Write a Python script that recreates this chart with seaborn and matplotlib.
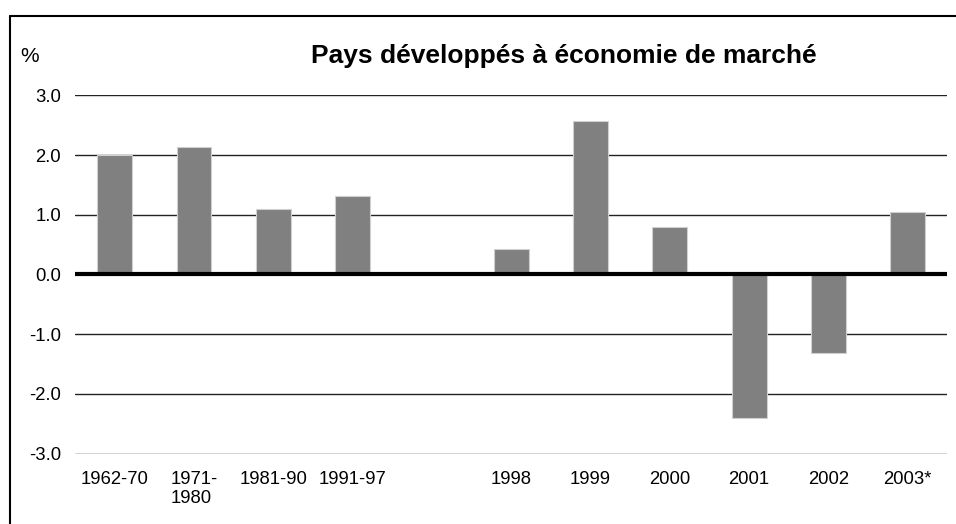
import seaborn as sns
import matplotlib.pyplot as plt
import pandas as pd
from matplotlib.lines import Line2D

# Growth rates, developed market economies (%)
periods = ["1962-70", "1971-\n1980", "1981-90", "1991-97",
           "1998", "1999", "2000", "2001", "2002", "2003*"]
growth = [2.0, 2.13, 1.1, 1.32, 0.42, 2.58, 0.8, -2.4, -1.31, 1.04]
# empty slot between the period averages and the yearly values
order = periods[:4] + [" "] + periods[4:]
yticks = [-3.0, -2.0, -1.0, 0.0, 1.0, 2.0, 3.0]

df = pd.DataFrame({"period": periods, "growth": growth})

sns.set_style("white")
plt.rcParams["font.family"] = ["Liberation Sans", "DejaVu Sans"]
plt.rcParams["text.color"] = "black"
plt.rcParams["xtick.color"] = "black"
plt.rcParams["ytick.color"] = "black"

fig = plt.figure(figsize=(9.56, 5.24), dpi=100)
ax = fig.add_axes([0.0785, 0.1345, 0.9125, 0.6833])

# gridlines behind bars
for v in yticks:
    if v != 0:
        ax.axhline(v, color="#222222", lw=1.0, zorder=0)

sns.barplot(data=df, x="period", y="growth", order=order, color="#808080",
            width=0.44, edgecolor="#d0d0d0", linewidth=0.8, saturation=1,
            ax=ax, zorder=2)

ax.axhline(0, color="black", lw=3, zorder=3)

ax.set_ylim(-3.0, 3.0)
ax.set_xlim(-0.5, 10.5)
ax.set_yticks(yticks)
ax.set_yticklabels([f"{v:.1f}" for v in yticks])
ax.tick_params(axis="y", length=0, pad=10, labelsize=13.3)
ax.tick_params(axis="x", length=0, pad=12.5, labelsize=13.3)
for lbl in ax.get_xticklabels():
    lbl.set_verticalalignment("top")
    lbl.set_multialignment("left")
ax.set_xlabel("")
ax.set_ylabel("")
sns.despine(ax=ax, left=True, bottom=True)

fig.text(0.59, 0.893, "Pays développés à économie de marché", ha="center",
         va="center", fontsize=19, fontweight="bold")
fig.text(0.021, 0.893, "%", ha="left", va="center", fontsize=15)

# outer frame (left and top edges visible)
fig.add_artist(Line2D([0.0105, 0.0105], [0.0, 0.9695], transform=fig.transFigure,
                      color="black", lw=1.5))
fig.add_artist(Line2D([0.0105, 1.0], [0.9695, 0.9695], transform=fig.transFigure,
                      color="black", lw=1.5))

fig.savefig("out.png", dpi=100)
